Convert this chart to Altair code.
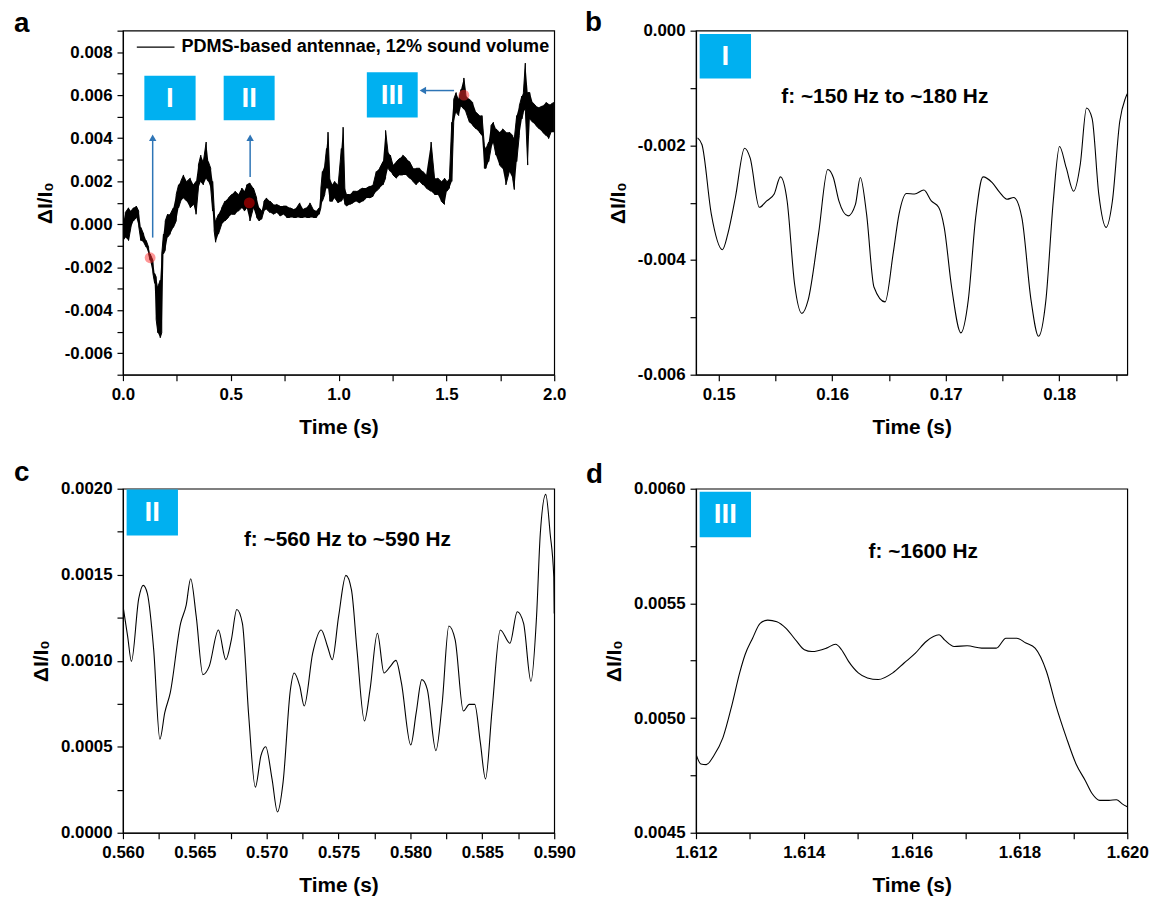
import math
import altair as alt
import pandas as pd

FONT = "Liberation Sans"
BOX = "#00B0F0"
ARROW = "#2E75B6"

# ---------------- panel a : full trace (noisy band: upper / lower envelope per time step)
a_time = [0.000, 0.011, 0.026, 0.037, 0.049, 0.062, 0.073, 0.083, 0.096, 0.108,
          0.119, 0.126, 0.139, 0.147, 0.154, 0.162, 0.173, 0.180, 0.188, 0.196,
          0.207, 0.219, 0.234, 0.247, 0.258, 0.268, 0.281, 0.296, 0.312, 0.327,
          0.339, 0.350, 0.361, 0.373, 0.386, 0.396, 0.407, 0.416, 0.423, 0.430,
          0.443, 0.458, 0.473, 0.489, 0.504, 0.520, 0.535, 0.551, 0.563, 0.574,
          0.589, 0.605, 0.620, 0.632, 0.643, 0.654, 0.666, 0.682, 0.697, 0.712,
          0.728, 0.743, 0.759, 0.774, 0.790, 0.805, 0.820, 0.836, 0.851, 0.867,
          0.882, 0.898, 0.910, 0.918, 0.925, 0.936, 0.944, 0.951, 0.959, 0.972,
          0.982, 0.998, 1.013, 1.021, 1.029, 1.039, 1.052, 1.067, 1.083, 1.098,
          1.113, 1.129, 1.144, 1.160, 1.175, 1.190, 1.206, 1.218, 1.229, 1.240,
          1.252, 1.268, 1.283, 1.298, 1.314, 1.329, 1.345, 1.360, 1.376, 1.391,
          1.406, 1.429, 1.445, 1.460, 1.476, 1.491, 1.502, 1.514, 1.525, 1.534,
          1.545, 1.557, 1.568, 1.581, 1.591, 1.607, 1.622, 1.638, 1.653, 1.665,
          1.676, 1.684, 1.696, 1.707, 1.718, 1.730, 1.746, 1.761, 1.776, 1.792,
          1.807, 1.815, 1.826, 1.838, 1.850, 1.857, 1.866, 1.877, 1.887, 1.900,
          1.915, 1.931, 1.946, 1.962, 1.974, 1.985, 1.997]
a_high = [0.00000, 0.00054, 0.00076, 0.00061, 0.00076, 0.00084, 0.00061, -0.00015, -0.00046, -0.00076,
          -0.00107, -0.00138, -0.00168, -0.00229, -0.00245, -0.00291, -0.00260, -0.00138, -0.00046, 0.00015,
          0.00046, 0.00046, 0.00076, 0.00138, 0.00183, 0.00199, 0.00229, 0.00199, 0.00214, 0.00183,
          0.00199, 0.00275, 0.00321, 0.00291, 0.00382, 0.00291, 0.00260, 0.00199, 0.00076, 0.00015,
          0.00046, 0.00076, 0.00107, 0.00122, 0.00138, 0.00153, 0.00138, 0.00168, 0.00153, 0.00183,
          0.00191, 0.00168, 0.00122, 0.00076, 0.00061, 0.00107, 0.00122, 0.00107, 0.00092, 0.00092,
          0.00084, 0.00084, 0.00084, 0.00076, 0.00069, 0.00076, 0.00099, 0.00069, 0.00076, 0.00099,
          0.00069, 0.00061, 0.00076, 0.00168, 0.00245, 0.00275, 0.00352, 0.00428, 0.00214, 0.00183,
          0.00199, 0.00183, 0.00352, 0.00451, 0.00168, 0.00138, 0.00138, 0.00153, 0.00153, 0.00161,
          0.00168, 0.00168, 0.00176, 0.00183, 0.00245, 0.00260, 0.00291, 0.00436, 0.00336, 0.00321,
          0.00275, 0.00291, 0.00306, 0.00321, 0.00306, 0.00291, 0.00260, 0.00260, 0.00260, 0.00245,
          0.00229, 0.00382, 0.00214, 0.00214, 0.00199, 0.00214, 0.00199, 0.00214, 0.00474, 0.00581,
          0.00612, 0.00581, 0.00627, 0.00680, 0.00596, 0.00581, 0.00566, 0.00520, 0.00505, 0.00505,
          0.00367, 0.00352, 0.00382, 0.00459, 0.00474, 0.00443, 0.00428, 0.00443, 0.00428, 0.00428,
          0.00413, 0.00398, 0.00505, 0.00550, 0.00596, 0.00612, 0.00749, 0.00612, 0.00612, 0.00566,
          0.00550, 0.00543, 0.00550, 0.00566, 0.00558, 0.00558, 0.00566]
a_low = [-0.00076, -0.00061, -0.00076, -0.00015, 0.00015, 0.00031, -0.00008, -0.00076, -0.00084, -0.00107,
         -0.00138, -0.00168, -0.00229, -0.00275, -0.00443, -0.00505, -0.00528, -0.00505, -0.00138, -0.00122,
         -0.00061, -0.00046, -0.00015, 0.00015, 0.00076, 0.00107, 0.00122, 0.00107, 0.00076, 0.00092,
         0.00046, 0.00168, 0.00199, 0.00183, 0.00214, 0.00199, 0.00168, 0.00061, -0.00031, -0.00084,
         -0.00046, 0.00000, 0.00015, 0.00031, 0.00046, 0.00046, 0.00061, 0.00076, 0.00061, 0.00076,
         0.00015, 0.00076, 0.00031, 0.00015, 0.00023, 0.00061, 0.00069, 0.00054, 0.00046, 0.00054,
         0.00038, 0.00046, 0.00031, 0.00031, 0.00031, 0.00031, 0.00031, 0.00031, 0.00031, 0.00031,
         0.00031, 0.00031, 0.00046, 0.00076, 0.00107, 0.00138, 0.00168, 0.00168, 0.00107, 0.00107,
         0.00122, 0.00099, 0.00107, 0.00122, 0.00092, 0.00084, 0.00092, 0.00099, 0.00107, 0.00099,
         0.00107, 0.00122, 0.00122, 0.00130, 0.00153, 0.00168, 0.00183, 0.00214, 0.00260, 0.00245,
         0.00229, 0.00214, 0.00229, 0.00229, 0.00229, 0.00214, 0.00199, 0.00183, 0.00199, 0.00183,
         0.00168, 0.00153, 0.00138, 0.00138, 0.00107, 0.00092, 0.00153, 0.00168, 0.00199, 0.00474,
         0.00520, 0.00505, 0.00550, 0.00535, 0.00520, 0.00474, 0.00459, 0.00443, 0.00428, 0.00413,
         0.00260, 0.00260, 0.00291, 0.00352, 0.00382, 0.00321, 0.00275, 0.00260, 0.00183, 0.00245,
         0.00214, 0.00161, 0.00291, 0.00413, 0.00489, 0.00520, 0.00535, 0.00275, 0.00489, 0.00474,
         0.00459, 0.00443, 0.00428, 0.00413, 0.00398, 0.00428, 0.00428]
assert len(a_time) == len(a_high) == len(a_low)

# marked points I, II, III on the full trace
mark_time = [0.126, 0.586, 1.581]
mark_val = [-0.00156, 0.00099, 0.00600]

# ---------------- panel b : zoom I
b_time = [0.14814, 0.14853, 0.14935, 0.15033, 0.15081, 0.15147, 0.15228, 0.15277, 0.15358, 0.15423,
          0.15489, 0.15544, 0.15603, 0.15668, 0.15733, 0.15788, 0.15880, 0.15961, 0.16010, 0.16059,
          0.16140, 0.16205, 0.16248, 0.16303, 0.16368, 0.16466, 0.16537, 0.16589, 0.16655, 0.16726,
          0.16808, 0.16873, 0.16938, 0.16987, 0.17052, 0.17134, 0.17199, 0.17264, 0.17329, 0.17410,
          0.17476, 0.17540, 0.17599, 0.17671, 0.17752, 0.17818, 0.17883, 0.17948, 0.18003, 0.18062,
          0.18127, 0.18186, 0.18241, 0.18290, 0.18349, 0.18414, 0.18469, 0.18534, 0.18583, 0.18600]
b_val = [-0.00187, -0.00199, -0.00320, -0.00382, -0.00354, -0.00291, -0.00205, -0.00222, -0.00308, -0.00297,
         -0.00285, -0.00255, -0.00297, -0.00441, -0.00493, -0.00470, -0.00354, -0.00242, -0.00256, -0.00297,
         -0.00323, -0.00303, -0.00256, -0.00320, -0.00447, -0.00473, -0.00389, -0.00320, -0.00284, -0.00285,
         -0.00278, -0.00297, -0.00308, -0.00343, -0.00447, -0.00527, -0.00470, -0.00326, -0.00255, -0.00265,
         -0.00282, -0.00294, -0.00291, -0.00326, -0.00470, -0.00533, -0.00470, -0.00297, -0.00202, -0.00239,
         -0.00280, -0.00233, -0.00135, -0.00153, -0.00285, -0.00343, -0.00297, -0.00158, -0.00118, -0.00110]

# ---------------- panel c : zoom II
c_time = [0.56003, 0.56033, 0.56059, 0.56110, 0.56141, 0.56170, 0.56214, 0.56257, 0.56291, 0.56329,
          0.56401, 0.56440, 0.56471, 0.56510, 0.56556, 0.56600, 0.56664, 0.56716, 0.56754, 0.56792,
          0.56831, 0.56875, 0.56921, 0.56960, 0.56993, 0.57037, 0.57075, 0.57114, 0.57165, 0.57191,
          0.57230, 0.57261, 0.57320, 0.57379, 0.57423, 0.57456, 0.57500, 0.57551, 0.57590, 0.57628,
          0.57680, 0.57719, 0.57770, 0.57816, 0.57860, 0.57899, 0.57937, 0.58002, 0.58040, 0.58079,
          0.58117, 0.58177, 0.58221, 0.58267, 0.58311, 0.58368, 0.58409, 0.58447, 0.58486, 0.58522,
          0.58568, 0.58625, 0.58692, 0.58743, 0.58787, 0.58838, 0.58877, 0.58903, 0.58941, 0.58972,
          0.58997, 0.59000]
c_val = [0.001304, 0.001140, 0.000996, 0.001362, 0.001438, 0.001390, 0.001063, 0.000544, 0.000698, 0.000813,
         0.001217, 0.001323, 0.001477, 0.001256, 0.000919, 0.000967, 0.001179, 0.001006, 0.001121, 0.001298,
         0.001217, 0.000679, 0.000265, 0.000448, 0.000500, 0.000313, 0.000121, 0.000294, 0.000833, 0.000929,
         0.000852, 0.000737, 0.001044, 0.001179, 0.001083, 0.001006, 0.001256, 0.001496, 0.001410, 0.001063,
         0.000650, 0.000833, 0.001160, 0.000929, 0.000967, 0.001002, 0.000871, 0.000510, 0.000698, 0.000890,
         0.000833, 0.000477, 0.000756, 0.001202, 0.001121, 0.000708, 0.000746, 0.000746, 0.000525, 0.000313,
         0.000717, 0.001179, 0.001102, 0.001285, 0.001217, 0.000881, 0.001256, 0.001737, 0.001967, 0.001737,
         0.001487, 0.001275]

# ---------------- panel d : zoom III
d_time = [1.61200, 1.61209, 1.61219, 1.61233, 1.61250, 1.61267, 1.61281, 1.61291, 1.61305, 1.61319,
          1.61333, 1.61350, 1.61367, 1.61387, 1.61401, 1.61415, 1.61442, 1.61459, 1.61470, 1.61483,
          1.61501, 1.61518, 1.61538, 1.61565, 1.61586, 1.61607, 1.61627, 1.61651, 1.61661, 1.61679,
          1.61703, 1.61730, 1.61757, 1.61775, 1.61795, 1.61812, 1.61829, 1.61850, 1.61867, 1.61887,
          1.61905, 1.61922, 1.61935, 1.61949, 1.61966, 1.61980, 1.61990, 1.62000]
d_val = [0.004843, 0.004800, 0.004797, 0.004836, 0.004915, 0.005060, 0.005197, 0.005276, 0.005348, 0.005413,
         0.005427, 0.005420, 0.005391, 0.005334, 0.005298, 0.005290, 0.005305, 0.005322, 0.005298, 0.005247,
         0.005197, 0.005175, 0.005168, 0.005197, 0.005240, 0.005283, 0.005334, 0.005363, 0.005341, 0.005312,
         0.005315, 0.005305, 0.005305, 0.005348, 0.005348, 0.005327, 0.005305, 0.005204, 0.005060, 0.004915,
         0.004800, 0.004728, 0.004670, 0.004641, 0.004641, 0.004644, 0.004627, 0.004613]

# ---------------- text
legend_text = "PDMS-based antennae, 12% sound volume"
freq_b = "f: ~150 Hz to ~180 Hz"
freq_c = "f: ~560 Hz to ~590 Hz"
freq_d = "f: ~1600 Hz"
x_title = "Time (s)"
y_title = "\u0394I/I\u2080"

W, H = 435, 347


def ticks(lo, hi, step):
    k0 = math.ceil(lo / step - 1e-6)
    k1 = math.floor(hi / step + 1e-6)
    return [round(k * step, 7) for k in range(k0, k1 + 1)]


def axis(values, major, fmt, orient):
    expr = ("abs(datum.value/%r - round(datum.value/%r)) < 1e-6 ? "
            "replace(format(datum.value, '%s'), '\u2212', '-') : ''" % (major, major, fmt))
    common = dict(values=values, labelExpr=expr, grid=False, tickSize=6, tickWidth=1.2,
                  tickColor="black", domainColor="black", domainWidth=1.2,
                  labelFont=FONT, labelFontSize=17, labelFontWeight="bold", labelColor="black",
                  labelFlush=False, labelOverlap=False,
                  titleFont=FONT, titleFontSize=21, titleFontWeight="bold", titleColor="black")
    if orient == "x":
        return alt.Axis(labelPadding=6, titlePadding=14, **common)
    return alt.Axis(labelPadding=5, titlePadding=9, **common)


def one():
    return pd.DataFrame({"k": [0]})


def letter(ch, dx, dy):
    return alt.Chart(one()).mark_text(text=ch, font=FONT, fontSize=28, fontWeight="bold",
                                      align="left", baseline="alphabetic", color="black").encode(
        x=alt.value(dx), y=alt.value(dy))


def box(x0, x1, y0, y1, label):
    r = alt.Chart(one()).mark_rect(color=BOX).encode(
        x=alt.value(x0), x2=alt.value(x1), y=alt.value(y0), y2=alt.value(y1))
    t = alt.Chart(one()).mark_text(text=label, font=FONT, fontSize=28, fontWeight="bold",
                                   color="white", align="center", baseline="middle").encode(
        x=alt.value((x0 + x1) / 2), y=alt.value((y0 + y1) / 2 + 1))
    return [r, t]


def freq(text, x0, yc):
    return alt.Chart(one()).mark_text(text=text, font=FONT, fontSize=21, fontWeight="bold",
                                      color="black", align="left", baseline="middle").encode(
        x=alt.value(x0), y=alt.value(yc))


def encodings(xdom, xminor, xmajor, xfmt, ydom, yminor, ymajor, yfmt):
    xe = alt.X("t:Q", title=x_title, scale=alt.Scale(domain=xdom, nice=False, zero=False),
               axis=axis(ticks(xdom[0], xdom[1], xminor), xmajor, xfmt, "x"))
    ye = alt.Y("v:Q", title=y_title, scale=alt.Scale(domain=ydom, nice=False, zero=False),
               axis=axis(ticks(ydom[0], ydom[1], yminor), ymajor, yfmt, "y"))
    return xe, ye


def smooth_panel(time, val, enc_args, extra):
    xe, ye = encodings(*enc_args)
    df = pd.DataFrame({"t": time, "v": val})
    line = alt.Chart(df).mark_line(color="black", strokeWidth=1.1, clip=True,
                                   interpolate="monotone").encode(x=xe, y=ye)
    return alt.layer(line, *extra(xe, ye)).properties(width=W, height=H)


# ---------------- panel a
xa, ya = encodings([0, 2], 0.25, 0.5, ".1f", [-0.007, 0.009], 0.001, 0.002, ".3f")
band_df = pd.DataFrame({"t": a_time, "v": a_high, "v2": a_low})
zz_t, zz_v = [], []
for k, (t, h, l) in enumerate(zip(a_time, a_high, a_low)):
    pair = [(t, h), (t, l)] if k % 2 == 0 else [(t, l), (t, h)]
    for tt, vv in pair:
        zz_t.append(tt)
        zz_v.append(vv)
zz_df = pd.DataFrame({"t": zz_t, "v": zz_v, "i": list(range(len(zz_t)))})

band = alt.Chart(band_df).mark_area(color="black", opacity=1, clip=True).encode(
    x=xa, y=ya, y2=alt.Y2("v2:Q"))
zig = alt.Chart(zz_df).mark_line(color="black", strokeWidth=1.0, clip=True).encode(
    x=xa, y=ya, order=alt.Order("i:Q"))

dots = pd.DataFrame({"t": mark_time, "v": mark_val})
d13 = alt.Chart(dots.iloc[[0, 2]]).mark_circle(size=120, color="#ff3030", opacity=0.5).encode(x=xa, y=ya)
d2 = alt.Chart(dots.iloc[[1]]).mark_circle(size=120, color="#8b0000", opacity=0.9).encode(x=xa, y=ya)

a_layers = [band, zig, d13, d2]
a_layers += box(21.6, 73.3, 45.4, 90.4, "I")
a_layers += box(101.6, 153.0, 45.4, 90.4, "II")
a_layers += box(246.0, 297.3, 42.0, 87.7, "III")
a_layers += [
    alt.Chart(one()).mark_rule(color=ARROW, strokeWidth=1.5).encode(
        x=alt.value(30), y=alt.value(208.7), y2=alt.value(110)),
    alt.Chart(one()).mark_point(shape="triangle-up", filled=True, size=55, color=ARROW, opacity=1).encode(
        x=alt.value(30), y=alt.value(108)),
    alt.Chart(one()).mark_rule(color=ARROW, strokeWidth=1.5).encode(
        x=alt.value(128.3), y=alt.value(147.7), y2=alt.value(110)),
    alt.Chart(one()).mark_point(shape="triangle-up", filled=True, size=55, color=ARROW, opacity=1).encode(
        x=alt.value(128.3), y=alt.value(108)),
    alt.Chart(one()).mark_rule(color=ARROW, strokeWidth=1.5).encode(
        x=alt.value(334), x2=alt.value(304), y=alt.value(60.4)),
    alt.Chart(one()).mark_point(shape="triangle-left", filled=True, size=55, color=ARROW, opacity=1).encode(
        x=alt.value(302.5), y=alt.value(60.4)),
    alt.Chart(one()).mark_rule(color="black", strokeWidth=1.3).encode(
        x=alt.value(14), x2=alt.value(52), y=alt.value(16.7)),
    alt.Chart(one()).mark_text(text=legend_text, font=FONT, fontSize=18.2, fontWeight="bold",
                               color="black", align="left", baseline="middle").encode(
        x=alt.value(59), y=alt.value(17)),
    letter("a", -110, 1),
]
pa = alt.layer(*a_layers).properties(width=W, height=H)


def extra_b(xe, ye):
    return box(3.7, 55.5, 3.3, 48.3, "I") + [freq(freq_b, 86, 67), letter("b", -112, 0)]


def extra_c(xe, ye):
    return box(3.7, 55.5, 0.7, 47.3, "II") + [freq(freq_c, 122, 52), letter("c", -110, -7.7)]


def extra_d(xe, ye):
    return box(3.7, 55.5, 3.0, 49.0, "III") + [freq(freq_d, 174, 64), letter("d", -111, -6)]


pb = smooth_panel(b_time, b_val, ([0.148, 0.186], 0.005, 0.01, ".2f", [-0.006, 0.0], 0.001, 0.002, ".3f"), extra_b)
pc = smooth_panel(c_time, c_val, ([0.56, 0.59], 0.0025, 0.005, ".3f", [0.0, 0.002], 0.00025, 0.0005, ".4f"), extra_c)
pd_ = smooth_panel(d_time, d_val, ([1.612, 1.620], 0.001, 0.002, ".3f", [0.0045, 0.006], 0.00025, 0.0005, ".4f"), extra_d)

chart = alt.concat(pa, pb, pc, pd_, columns=2, spacing={"row": 115, "column": 143},
                   bounds="flush").properties(
    padding={"left": 13, "top": 4, "right": 10, "bottom": 10}
).configure_view(stroke="black", strokeWidth=1.2)

chart.save("out.html", embed_options={"renderer": "svg", "actions": False})
